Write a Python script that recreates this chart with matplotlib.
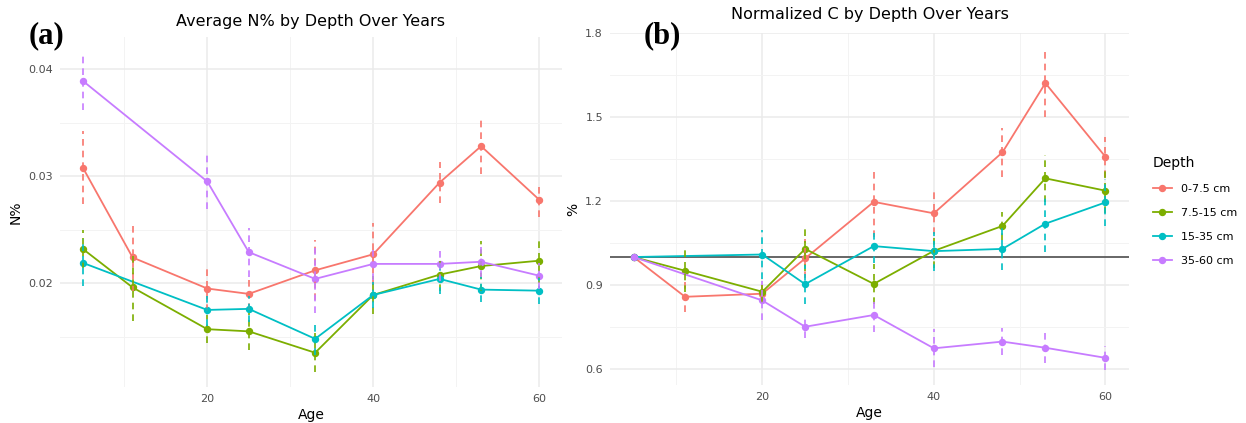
import numpy as np
import matplotlib
matplotlib.use("Agg")
import matplotlib.pyplot as plt
from matplotlib.ticker import FixedLocator

# ages sampled
age = np.array([5, 11, 20, 25, 33, 40, 48, 53, 60])
depths = ["0-7.5 cm", "7.5-15 cm", "15-35 cm", "35-60 cm"]
colors = ["#F8766D", "#7CAE00", "#00BFC4", "#C77CFF"]
nan = np.nan

# (a) average N% and error
n_mean = {
    "0-7.5 cm":  [0.0308, 0.0224, 0.0195, 0.0190, 0.0212, 0.0227, 0.0294, 0.0328, 0.0278],
    "7.5-15 cm": [0.0232, 0.0196, 0.0157, 0.0155, 0.0135, 0.0189, 0.0208, 0.0216, 0.0221],
    "15-35 cm":  [0.0219, nan, 0.0175, 0.0176, 0.0148, 0.0189, 0.0204, 0.0194, 0.0193],
    "35-60 cm":  [0.0389, nan, 0.0295, 0.0229, 0.0204, 0.0218, 0.0218, 0.0220, 0.0207],
}
n_err = {
    "0-7.5 cm":  [0.0034, 0.0031, 0.0021, 0.0015, 0.0028, 0.0029, 0.0019, 0.0026, 0.0016],
    "7.5-15 cm": [0.0018, 0.0031, 0.0013, 0.0017, 0.0018, 0.0018, 0.0015, 0.0023, 0.0021],
    "15-35 cm":  [0.0022, nan, 0.0015, 0.0012, 0.0015, 0.0012, 0.0014, 0.0012, 0.0012],
    "35-60 cm":  [0.0027, nan, 0.0026, 0.0023, 0.0032, 0.0015, 0.0016, 0.0014, 0.0012],
}

# (b) normalized C and error
c_mean = {
    "0-7.5 cm":  [1.0, 0.858, 0.869, 0.995, 1.197, 1.156, 1.374, 1.621, 1.358],
    "7.5-15 cm": [1.0, 0.951, 0.876, 1.029, 0.904, 1.022, 1.111, 1.281, 1.237],
    "15-35 cm":  [1.0, nan, 1.009, 0.903, 1.039, 1.021, 1.029, 1.119, 1.195],
    "35-60 cm":  [1.0, nan, 0.845, 0.751, 0.793, 0.674, 0.698, 0.676, 0.640],
}
c_err = {
    "0-7.5 cm":  [0, 0.053, 0.030, 0.070, 0.125, 0.075, 0.088, 0.122, 0.072],
    "7.5-15 cm": [0, 0.075, 0.040, 0.080, 0.070, 0.060, 0.050, 0.083, 0.080],
    "15-35 cm":  [0, nan, 0.086, 0.070, 0.060, 0.070, 0.075, 0.100, 0.085],
    "35-60 cm":  [0, nan, 0.070, 0.040, 0.060, 0.068, 0.048, 0.055, 0.043],
}

W, H = 1246, 423
fig = plt.figure(figsize=(W / 100, H / 100), dpi=100)

def px_axes(l, t, r, b):
    return fig.add_axes([l / W, 1 - b / H, (r - l) / W, (b - t) / H])

def style(ax, yticks, yminor, ylim):
    ax.set_xlim(2.25, 62.75)
    ax.set_ylim(*ylim)
    ax.xaxis.set_major_locator(FixedLocator([20, 40, 60]))
    ax.xaxis.set_minor_locator(FixedLocator([10, 30, 50]))
    ax.yaxis.set_major_locator(FixedLocator(yticks))
    ax.yaxis.set_minor_locator(FixedLocator(yminor))
    ax.grid(which="major", color="#EBEBEB", lw=1.1)
    ax.grid(which="minor", color="#F3F3F3", lw=0.7)
    ax.set_axisbelow(True)
    for s in ax.spines.values():
        s.set_visible(False)
    ax.tick_params(which="both", length=0, labelsize=8, labelcolor="#4D4D4D", pad=5)
    ax.set_xlabel("Age", fontsize=10, labelpad=3)

def draw(ax, means, errs):
    for d, c in zip(depths, colors):
        y = np.array(means[d], dtype=float)
        e = np.array(errs[d], dtype=float)
        m = ~np.isnan(y)
        ax.plot(age[m], y[m], color=c, lw=1.3, marker="o", ms=4.3, label=d, zorder=3)
        ok = m & (e > 0)
        ax.vlines(age[ok], y[ok] - e[ok], y[ok] + e[ok], colors=c, lw=1.2,
                  linestyles=(0, (4, 3)), zorder=4)

ax1 = px_axes(60, 37, 562, 387)
draw(ax1, n_mean, n_err)
style(ax1, [0.02, 0.03, 0.04], [0.015, 0.025, 0.035], (0.0103, 0.0430))
ax1.yaxis.set_major_formatter(lambda v, p: f"{v:.2f}")
ax1.set_ylabel("N%", fontsize=10, labelpad=4)
ax1.set_title("Average N% by Depth Over Years", fontsize=11.5, pad=8)

ax2 = px_axes(610, 33, 1129, 385)
ax2.axhline(1.0, color="#666666", lw=1.4, zorder=2)
draw(ax2, c_mean, c_err)
style(ax2, [0.6, 0.9, 1.2, 1.5, 1.8], [0.75, 1.05, 1.35, 1.65], (0.543, 1.80))
ax2.yaxis.set_major_formatter(lambda v, p: f"{v:.1f}")
ax2.set_ylabel("%", fontsize=10, labelpad=4)
ax2.set_title("Normalized C by Depth Over Years", fontsize=11.5, pad=10)

fig.text(46 / W, 1 - 36 / H, "(a)", fontsize=22, fontweight="bold",
         family="Liberation Serif", ha="center", va="center")
fig.text(662 / W, 1 - 36 / H, "(b)", fontsize=22, fontweight="bold",
         family="Liberation Serif", ha="center", va="center")

h, l = ax2.get_legend_handles_labels()
leg = fig.legend(h, l, title="Depth", loc="upper left",
                 bbox_to_anchor=(1143 / W, 1 - 146 / H), frameon=False,
                 fontsize=8, title_fontsize=10, handlelength=1.7,
                 handletextpad=0.8, labelspacing=1.25, alignment="left")

fig.savefig("out.png", dpi=100)
